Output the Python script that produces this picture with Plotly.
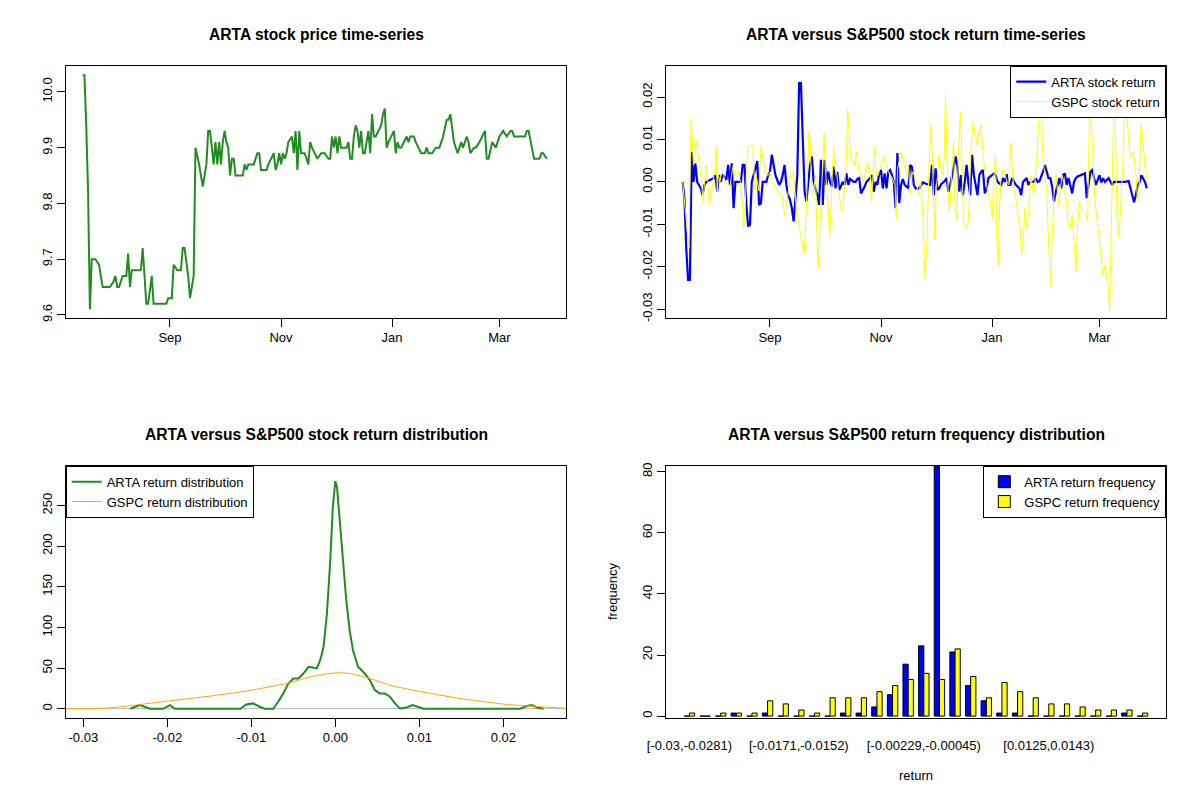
import pandas as pd
import plotly.graph_objects as go

start = pd.Timestamp("2018-07-15")

# ARTA closing price (days since start, price)
price_day = [0, 1, 2, 3, 4, 5, 7, 9, 10, 11, 15, 17, 18, 19, 20, 22, 24, 25, 26, 27,
             32, 33, 34, 35, 36, 38, 39, 46, 47, 49, 50, 52, 54, 55, 56, 58, 59, 60, 61, 62,
             64, 66, 68, 69, 70, 71, 72, 73, 74, 75, 76, 77, 78, 79, 80, 81, 82, 83, 84, 88,
             89, 90, 91, 94, 96, 97, 98, 101, 102, 105, 106, 107, 108, 109, 110, 111, 112, 113, 115, 116,
             117, 118, 119, 120, 122, 124, 125, 126, 129, 131, 133, 135, 136, 137, 138, 139, 140, 141, 142, 145,
             146, 147, 148, 149, 150, 151, 152, 153, 154, 155, 157, 158, 159, 160, 161, 164, 165, 166, 167, 168,
             171, 172, 173, 174, 175, 178, 179, 180, 182, 183, 186, 188, 189, 190, 192, 194, 196, 198, 200, 201,
             202, 204, 206, 207, 208, 209, 211, 212, 213, 215, 216, 218, 221, 222, 223, 225, 227, 229, 231, 233,
             235, 236, 237, 243, 244, 245, 248, 251, 252, 253, 255]
price = [10.03, 10.03, 9.94, 9.82, 9.61, 9.70, 9.70, 9.69, 9.67, 9.65, 9.65, 9.66, 9.67, 9.65, 9.65, 9.67, 9.67, 9.71, 9.65, 9.68,
         9.68, 9.72, 9.67, 9.62, 9.62, 9.67, 9.62, 9.62, 9.63, 9.63, 9.69, 9.68, 9.68, 9.72, 9.72, 9.67, 9.63, 9.65, 9.67, 9.90,
         9.87, 9.83, 9.87, 9.93, 9.93, 9.90, 9.87, 9.91, 9.87, 9.91, 9.87, 9.91, 9.93, 9.91, 9.90, 9.85, 9.88, 9.88, 9.85, 9.85,
         9.87, 9.86, 9.87, 9.87, 9.89, 9.89, 9.86, 9.86, 9.87, 9.89, 9.86, 9.87, 9.89, 9.87, 9.89, 9.88, 9.89, 9.91, 9.92, 9.89,
         9.93, 9.86, 9.93, 9.89, 9.89, 9.87, 9.91, 9.90, 9.88, 9.89, 9.89, 9.88, 9.88, 9.92, 9.90, 9.92, 9.89, 9.92, 9.90, 9.90,
         9.91, 9.88, 9.88, 9.92, 9.94, 9.93, 9.90, 9.93, 9.89, 9.89, 9.93, 9.89, 9.96, 9.92, 9.92, 9.94, 9.96, 9.97, 9.90, 9.91,
         9.93, 9.89, 9.91, 9.90, 9.90, 9.92, 9.91, 9.92, 9.92, 9.91, 9.89, 9.89, 9.90, 9.89, 9.89, 9.90, 9.90, 9.92, 9.95, 9.95,
         9.96, 9.91, 9.89, 9.90, 9.91, 9.90, 9.92, 9.91, 9.89, 9.90, 9.90, 9.91, 9.93, 9.88, 9.88, 9.91, 9.90, 9.92, 9.93, 9.92,
         9.93, 9.93, 9.92, 9.92, 9.93, 9.93, 9.88, 9.88, 9.89, 9.89, 9.88]

# ARTA daily return
arta_day = [0, 1, 2, 3, 4, 5, 6, 7, 8, 10, 11, 12, 13, 17, 18, 19, 20, 21, 22, 24,
            25, 26, 27, 28, 29, 32, 33, 34, 35, 36, 37, 38, 39, 40, 41, 42, 43, 44, 46, 47,
            48, 49, 50, 51, 53, 54, 55, 56, 57, 58, 59, 60, 61, 62, 63, 64, 65, 66, 67, 68,
            69, 70, 71, 72, 73, 74, 75, 76, 77, 78, 79, 80, 81, 82, 83, 84, 85, 86, 88, 89,
            90, 91, 92, 94, 95, 96, 97, 98, 100, 101, 103, 104, 105, 106, 107, 108, 109, 110, 111, 112,
            113, 114, 115, 116, 117, 118, 119, 120, 121, 122, 124, 125, 126, 127, 128, 130, 132, 134, 136, 137,
            138, 139, 140, 141, 142, 144, 145, 146, 147, 148, 149, 150, 151, 152, 153, 154, 155, 156, 157, 158,
            159, 160, 162, 163, 164, 165, 166, 167, 168, 170, 171, 172, 173, 175, 176, 177, 178, 179, 180, 181,
            182, 183, 185, 186, 187, 189, 190, 191, 193, 194, 195, 196, 198, 199, 201, 202, 203, 204, 205, 207,
            208, 209, 210, 211, 212, 213, 214, 215, 216, 217, 219, 221, 222, 223, 224, 225, 226, 227, 229, 230,
            231, 232, 234, 236, 237, 238, 240, 242, 243, 245, 246, 247, 248, 249, 250, 251, 252, 254, 255]
arta_ret = [0.0, -0.0038, -0.0156, -0.0231, -0.0231, 0.0071, 0.0, 0.0044, 0.0, -0.0015, -0.0031, -0.0007, 0.0, 0.0009, 0.0016, -0.0023, 0.0016, 0.0, 0.0018, 0.0005,
            0.0040, -0.0007, 0.0044, -0.0062, 0.0, 0.0, 0.0040, 0.0040, -0.0054, -0.0105, -0.0101, 0.0, 0.0016, 0.0032, 0.0049, -0.0054, -0.0050, 0.0, 0.0, 0.0016,
            0.0024, 0.0064, 0.0040, 0.0016, -0.0007, 0.0, 0.0016, 0.0040, -0.0007, -0.0031, -0.0042, -0.0062, -0.0093, -0.0038, 0.0016, 0.0233, 0.0233, 0.0103, -0.0023, -0.0046,
            0.0, 0.0040, 0.0060, 0.0, -0.0015, -0.0031, -0.0054, 0.0052, -0.0054, 0.0052, -0.0007, 0.0024, 0.0, -0.0011, 0.0036, -0.0015, 0.0024, -0.0019, 0.0, -0.0007,
            0.0020, -0.0007, 0.0007, 0.0, 0.0, 0.0007, 0.0009, -0.0027, -0.0011, 0.0, 0.0009, 0.0016, -0.0023, 0.0, -0.0007, 0.0020, 0.0028, -0.0015, 0.0020, -0.0015,
            0.0024, 0.0028, 0.0016, 0.0, -0.0062, 0.0068, -0.0050, -0.0007, 0.0007, -0.0007, -0.0015, 0.0040, 0.0036, -0.0007, -0.0015, -0.0015, -0.0001, -0.0005, -0.0007, 0.0040,
            -0.0031, 0.0032, -0.0019, -0.0015, -0.0005, 0.0002, 0.0009, -0.0023, -0.0007, 0.0016, 0.0036, 0.0060, 0.0036, -0.0023, 0.0016, -0.0031, 0.0, 0.0040, -0.0003, -0.0031,
            0.0064, 0.0016, -0.0031, 0.0016, 0.0024, 0.0028, -0.0027, -0.0015, 0.0009, 0.0016, 0.0020, 0.0016, 0.0, -0.0007, 0.0009, 0.0, 0.0018, -0.0007, -0.0007, 0.0009,
            0.0, -0.0007, -0.0015, -0.0031, 0.0, 0.0009, -0.0007, 0.0, 0.0, 0.0009, 0.0, 0.0002, 0.0024, 0.0040, 0.0009, 0.0009, -0.0011, -0.0046, -0.0023, 0.0009,
            -0.0015, 0.0016, 0.0020, -0.0007, 0.0009, -0.0007, -0.0027, 0.0, 0.0009, 0.0013, 0.0016, 0.0020, -0.0038, 0.0, 0.0024, 0.0028, 0.0009, -0.0007, 0.0016, -0.0001,
            0.0009, 0.0, 0.0009, -0.0007, 0.0, 0.0, -0.0001, -0.0001, 0.0, 0.0002, -0.0015, -0.0031, -0.0048, -0.0031, -0.0007, -0.0001, 0.0016, 0.0, -0.0015]

# S&P500 (GSPC) daily return
gspc_day = [0, 1.3, 2.4, 3.5, 4.6, 5.3, 6.0, 6.8, 7.5, 8.2, 9.0, 10.1, 11.2, 11.9, 12.8, 13.6, 14.7, 15.6, 16.8, 17.8,
            18.5, 19.0, 19.6, 20.5, 21.4, 22.3, 23.3, 24.2, 25.1, 26.0, 26.9, 27.8, 28.8, 29.7, 30.6, 31.7, 32.8, 33.5, 34.2, 35.0,
            35.7, 37.2, 38.6, 39.7, 40.7, 41.9, 43.0, 43.8, 44.9, 46.0, 47.0, 48.2, 48.9, 50.0, 51.1, 52.3, 53.5, 54.8, 55.9, 56.8,
            57.7, 58.6, 59.5, 60.6, 61.4, 62.1, 62.8, 63.6, 64.7, 65.8, 66.8, 67.8, 68.7, 69.4, 70.1, 70.9, 71.6, 72.3, 73.1, 73.8,
            74.5, 75.3, 76.0, 76.7, 77.7, 78.4, 79.3, 80.0, 80.8, 81.5, 82.2, 83.0, 83.7, 84.8, 85.5, 86.4, 87.4, 88.1, 89.2, 89.9,
            90.7, 91.4, 92.1, 93.2, 94.3, 95.4, 96.2, 96.9, 98.0, 99.3, 100.2, 101.6, 102.4, 103.1, 103.8, 104.6, 105.3, 106.4, 107.5, 108.4,
            109.3, 110.8, 111.9, 113.0, 114.1, 115.2, 115.9, 116.7, 117.4, 118.1, 118.9, 120.0, 121.1, 122.2, 123.3, 124.0, 125.1, 126.2, 127.3, 128.6,
            129.5, 130.9, 132.0, 133.1, 134.2, 135.3, 136.4, 137.1, 137.9, 138.6, 139.3, 140.1, 140.8, 141.9, 143.0, 143.7, 144.4, 145.2, 145.9, 146.6,
            147.7, 148.8, 149.6, 150.7, 151.4, 152.5, 153.2, 154.3, 155.1, 156.5, 157.3, 158.4, 159.5, 160.6, 161.7, 162.8, 163.9, 165.0, 166.1, 167.0,
            167.9, 169.0, 170.1, 170.8, 171.9, 172.7, 173.4, 174.1, 174.9, 176.0, 177.1, 178.2, 179.2, 180.3, 181.3, 182.2, 183.3, 184.4, 185.5, 186.2,
            187.3, 188.0, 189.1, 190.2, 191.3, 192.1, 192.8, 193.9, 195.0, 196.1, 196.8, 197.9, 199.0, 200.1, 201.2, 202.3, 203.1, 204.2, 205.3, 206.4,
            207.5, 208.6, 209.7, 210.8, 211.8, 212.9, 214.0, 215.1, 216.2, 217.0, 218.1, 219.2, 220.3, 221.4, 222.5, 223.6, 224.7, 225.6, 226.5, 227.4,
            228.7, 229.8, 230.9, 232.0, 233.1, 233.8, 234.6, 235.3, 236.0, 236.8, 237.5, 238.6, 239.7, 240.8, 241.9, 242.6, 243.7, 244.8, 245.9, 247.0,
            248.1, 249.2, 249.9, 250.7, 251.8, 252.9, 254.0, 255.3]
gspc_ret = [0.0, -0.0062, -0.0117, -0.0156, 0.0150, 0.0095, 0.0040, 0.0056, 0.0099, 0.0071, 0.0048, 0.0016, -0.0046, -0.0007, 0.0040, 0.0016, -0.0054, -0.0031, 0.0, 0.0032,
            0.0083, -0.0023, 0.0016, 0.0, 0.0024, 0.0024, 0.0, -0.0007, -0.0003, -0.0011, 0.0016, 0.0040, 0.0016, 0.0020, 0.0024, 0.0, -0.0046, -0.0109, -0.0086, 0.0016,
            0.0083, 0.0086, 0.0083, -0.0019, 0.0009, -0.0021, 0.0086, 0.0064, 0.0040, 0.0016, 0.0016, 0.0024, 0.0, -0.0007, -0.0015, -0.0023, -0.0031, -0.0032, -0.0078, -0.0062,
            -0.0027, -0.0007, 0.0020, 0.0023, 0.0, -0.0046, -0.0086, -0.0093, -0.0117, -0.0141, -0.0170, -0.0078, 0.0064, 0.0119, 0.0088, -0.0023, -0.0031, -0.0007, 0.0016, -0.0133,
            -0.0205, -0.0117, -0.0046, 0.0040, 0.0115, 0.0032, -0.0015, -0.0062, -0.0131, -0.0078, 0.0016, 0.0079, 0.0032, 0.0016, -0.0015, -0.0046, -0.0070, -0.0062, 0.0001, 0.0048,
            0.0170, 0.0110, 0.0071, 0.0048, 0.0040, 0.0071, 0.0048, 0.0024, 0.0016, 0.0, 0.0016, 0.0048, 0.0024, 0.0016, -0.0050, 0.0016, 0.0083, 0.0016, 0.0016, 0.0032,
            0.0044, 0.0064, 0.0040, 0.0024, 0.0016, 0.0009, 0.0, -0.0007, -0.0086, 0.0032, 0.0048, 0.0071, 0.0048, 0.0032, 0.0016, 0.0040, -0.0027, 0.0024, 0.0016, 0.0,
            -0.0031, -0.0001, -0.0078, -0.0227, -0.0141, 0.0032, 0.0134, 0.0071, -0.0046, -0.0137, -0.0015, 0.0016, 0.0064, 0.0032, 0.0016, 0.0056, 0.0205, 0.0056, -0.0031, -0.0070,
            0.0016, 0.0095, -0.0054, -0.0090, 0.0048, 0.0166, 0.0095, -0.0093, -0.0109, -0.0113, -0.0062, 0.0071, 0.0142, 0.0119, 0.0087, 0.0119, 0.0134, 0.0071, 0.0016, -0.0007,
            -0.0031, -0.0046, -0.0086, 0.0001, 0.0064, -0.0141, -0.0196, -0.0062, 0.0009, 0.0032, 0.0016, 0.0001, -0.0007, 0.0091, 0.0016, -0.0023, -0.0046, -0.0086, -0.0109, -0.0172,
            -0.0125, -0.0062, -0.0109, -0.0062, 0.0016, -0.0007, -0.0031, 0.0016, 0.0095, 0.0174, 0.0221, 0.0056, 0.0016, -0.0023, -0.0164, -0.0247, -0.0125, -0.0007, 0.0016, -0.0054,
            -0.0015, 0.0016, -0.0015, -0.0046, -0.0101, -0.0109, -0.0078, -0.0141, -0.0211, -0.0101, -0.0046, -0.0062, -0.0070, -0.0078, -0.0093, 0.0189, 0.0126, 0.0016, -0.0046, -0.0078,
            -0.0125, -0.0172, -0.0219, -0.0196, -0.0235, -0.0251, -0.0302, -0.0141, 0.0016, 0.0174, 0.0213, -0.0086, -0.0133, -0.0054, 0.0048, 0.0174, 0.0205, 0.0111, 0.0056, 0.0071,
            0.0056, 0.0009, -0.0046, -0.0023, 0.0134, 0.0103, 0.0032, 0.0001]

# kernel density estimates (return, density)
arta_dens_x = [-0.0244, -0.0233, -0.0227, -0.0221, -0.0205, -0.0197, -0.0191, -0.0113, -0.0106, -0.0098,
               -0.0090, -0.0084, -0.0074, -0.0068, -0.0062, -0.0056, -0.0050, -0.0044, -0.0038, -0.0032,
               -0.0027, -0.0022, -0.0018, -0.0014, -0.0010, -0.0006, -0.0003, 0.0, 0.0002, 0.0005,
               0.0009, 0.0013, 0.0017, 0.0021, 0.0027, 0.0035, 0.0041, 0.0047, 0.0053, 0.0059,
               0.0065, 0.0071, 0.0077, 0.0085, 0.0092, 0.0099, 0.0105, 0.0220, 0.0228, 0.0234,
               0.0240, 0.0248]
arta_dens_y = [0, 4.5, 2.5, 0, 0, 4.5, 0, 0, 5.3, 6.6,
               2.5, 0, 0, 8.6, 18.9, 31, 37.3, 37.3, 43.4, 51.6,
               50.8, 49.6, 59.8, 76.2, 117, 183, 248, 280, 273, 232,
               183, 134, 97, 72, 51.6, 43.4, 35.2, 23, 18.9, 18.9,
               14.8, 6.6, 0.4, 1.6, 4.5, 1.6, 0, 0, 3.3, 4.5,
               1.6, 0]
gspc_dens_x = [-0.0321, -0.0272, -0.0248, -0.0197, -0.0149, -0.0106, -0.0058, -0.0026, 0.0002, 0.0017,
               0.0037, 0.0069, 0.0109, 0.0148, 0.0200, 0.0244, 0.0275]
gspc_dens_y = [0, 0.8, 3.3, 9.8, 15.6, 21.7, 31.1, 40.2, 44.3, 43.4,
               38.5, 27.9, 19.7, 12.7, 5.7, 2.5, 0.4]

# return histogram, 30 bins
bin_no = list(range(1, 31))
arta_freq = [0, 0, 0, 1, 0, 1, 0, 0, 0, 0, 1, 1, 3, 7, 17, 23, 82, 21, 10, 5, 1, 1, 0, 0, 0, 0, 0, 0, 1, 0]
gspc_freq = [1, 0, 1, 1, 1, 5, 4, 2, 1, 6, 6, 6, 8, 10, 12, 14, 12, 22, 13, 6, 11, 8, 6, 4, 4, 3, 2, 2, 2, 1]
bin_label_no = [1, 8, 16, 24]
bin_labels = ["[-0.03,-0.0281)", "[-0.0171,-0.0152)", "[-0.00229,-0.00045)", "[0.0125,0.0143)"]

month_ticks = ["2018-09-01", "2018-11-01", "2019-01-01", "2019-03-01"]
month_labels = ["Sep", "Nov", "Jan", "Mar"]

FONT = "Arial, Liberation Sans, sans-serif"
W, H = 1200, 800
SHIFT = 8  # the page body margin pushes the figure 8px right and down


def days(d):
    return start + pd.to_timedelta(d, unit="D")


def px_x(x):
    return (x - SHIFT) / W


def px_y(y):
    return 1 - (y - SHIFT) / H


fig = go.Figure()

fig.add_trace(go.Scatter(x=days(price_day), y=price, mode="lines",
                         line=dict(color="#228B22", width=2), showlegend=False,
                         xaxis="x", yaxis="y"))

fig.add_trace(go.Scatter(x=days(arta_day), y=arta_ret, mode="lines", name="ARTA stock return",
                         line=dict(color="#0000FF", width=2.2), legend="legend",
                         xaxis="x2", yaxis="y2"))
fig.add_trace(go.Scatter(x=days(gspc_day), y=gspc_ret, mode="lines", name="GSPC stock return",
                         line=dict(color="#FFFF00", width=1), legend="legend",
                         xaxis="x2", yaxis="y2"))

fig.add_trace(go.Scatter(x=arta_dens_x, y=arta_dens_y, mode="lines", name="ARTA return distribution",
                         line=dict(color="#228B22", width=2),
                         legend="legend2", xaxis="x3", yaxis="y3"))
fig.add_trace(go.Scatter(x=gspc_dens_x, y=gspc_dens_y, mode="lines", name="GSPC return distribution",
                         line=dict(color="#FFA500", width=1, shape="spline", smoothing=0.5),
                         legend="legend2", xaxis="x3", yaxis="y3"))

fig.add_trace(go.Bar(x=bin_no, y=arta_freq, name="ARTA return frequency",
                     marker=dict(color="#0000FF", line=dict(color="black", width=1)),
                     legend="legend3", xaxis="x4", yaxis="y4"))
fig.add_trace(go.Bar(x=bin_no, y=gspc_freq, name="GSPC return frequency",
                     marker=dict(color="#FFFF00", line=dict(color="black", width=1)),
                     legend="legend3", xaxis="x4", yaxis="y4"))

# panel boxes in pixels: (left, right, top, bottom)
boxes = {
    1: (65.7, 566.3, 65.7, 317.7),
    2: (665.7, 1166.3, 65.7, 317.7),
    3: (65.7, 566.3, 465.7, 717.7),
    4: (665.7, 1166.3, 465.7, 717.7),
}


def dom(i):
    l, r, t, b = boxes[i]
    return [px_x(l), px_x(r)], [px_y(b), px_y(t)]


axis_common = dict(showline=True, mirror=True, linecolor="black", linewidth=1,
                   ticks="outside", ticklen=8, tickwidth=1, tickcolor="black",
                   showgrid=False, zeroline=False, automargin=False,
                   tickfont=dict(family=FONT, size=13, color="black"))

layout = {}
for i in range(1, 5):
    xd, yd = dom(i)
    sx = "" if i == 1 else str(i)
    layout["xaxis" + sx] = dict(axis_common, domain=xd, anchor="y" + sx, tickangle=0)
    layout["yaxis" + sx] = dict(axis_common, domain=yd, anchor="x" + sx, tickangle=-90)

date_range = ["2018-07-05 17:00", "2019-04-06 17:00"]
layout["xaxis"].update(range=date_range, tickvals=month_ticks, ticktext=month_labels)
layout["xaxis2"].update(range=date_range, tickvals=month_ticks, ticktext=month_labels)
layout["yaxis"].update(range=[9.595, 10.047], tickvals=[9.6, 9.7, 9.8, 9.9, 10.0],
                       ticktext=["9.6", "9.7", "9.8", "9.9", "10.0"])
layout["yaxis2"].update(range=[-0.032, 0.0274], tickvals=[-0.03, -0.02, -0.01, 0, 0.01, 0.02],
                        ticktext=["-0.03", "-0.02", "-0.01", "0.00", "0.01", "0.02"])
layout["xaxis3"].update(range=[-0.0321, 0.0275], tickvals=[-0.03, -0.02, -0.01, 0, 0.01, 0.02],
                        ticktext=["-0.03", "-0.02", "-0.01", "0.00", "0.01", "0.02"])
layout["yaxis3"].update(range=[-11, 299], tickvals=[0, 50, 100, 150, 200, 250],
                        ticktext=["0", "50", "100", "150", "200", "250"],
                        zeroline=True, zerolinecolor="#BEBEBE", zerolinewidth=1)
layout["xaxis4"].update(range=[-0.52, 31.52], tickvals=bin_label_no, ticktext=bin_labels,
                        ticks="", ticklabelstandoff=16)
layout["yaxis4"].update(range=[-0.52, 82], tickvals=[0, 20, 40, 60, 80],
                        ticktext=["0", "20", "40", "60", "80"])

titles = {
    1: "ARTA stock price time-series",
    2: "ARTA versus S&P500 stock return time-series",
    3: "ARTA versus S&P500 stock return distribution",
    4: "ARTA versus S&P500 return frequency distribution",
}
annotations = []
for i, t in titles.items():
    l, r, top, b = boxes[i]
    annotations.append(dict(text="<b>" + t + "</b>", x=px_x((l + r) / 2), y=px_y(top - 31),
                            xref="paper", yref="paper", xanchor="center", yanchor="middle",
                            showarrow=False, font=dict(family=FONT, size=15.6, color="black")))
annotations.append(dict(text="return", x=px_x((665.7 + 1166.3) / 2), y=px_y(775),
                        xref="paper", yref="paper", xanchor="center", yanchor="middle",
                        showarrow=False, font=dict(family=FONT, size=13, color="black")))
annotations.append(dict(text="frequency", x=px_x(612), y=px_y(591), textangle=-90,
                        xref="paper", yref="paper", xanchor="center", yanchor="middle",
                        showarrow=False, font=dict(family=FONT, size=13, color="black")))

legend_common = dict(bgcolor="white", bordercolor="black", borderwidth=1,
                     font=dict(family=FONT, size=13, color="black"),
                     tracegroupgap=0)

fig.update_layout(
    width=W, height=H, autosize=False,
    margin=dict(l=0, r=0, t=0, b=0),
    paper_bgcolor="white", plot_bgcolor="white",
    barmode="group", bargap=1 / 3, bargroupgap=0,
    annotations=annotations,
    legend=dict(legend_common, x=px_x(1166.3), y=px_y(65.7), xanchor="right", yanchor="top"),
    legend2=dict(legend_common, x=px_x(65.7), y=px_y(465.7), xanchor="left", yanchor="top"),
    legend3=dict(legend_common, x=px_x(1166.3), y=px_y(465.7), xanchor="right", yanchor="top"),
    **layout,
)

fig.write_html("out.html")
